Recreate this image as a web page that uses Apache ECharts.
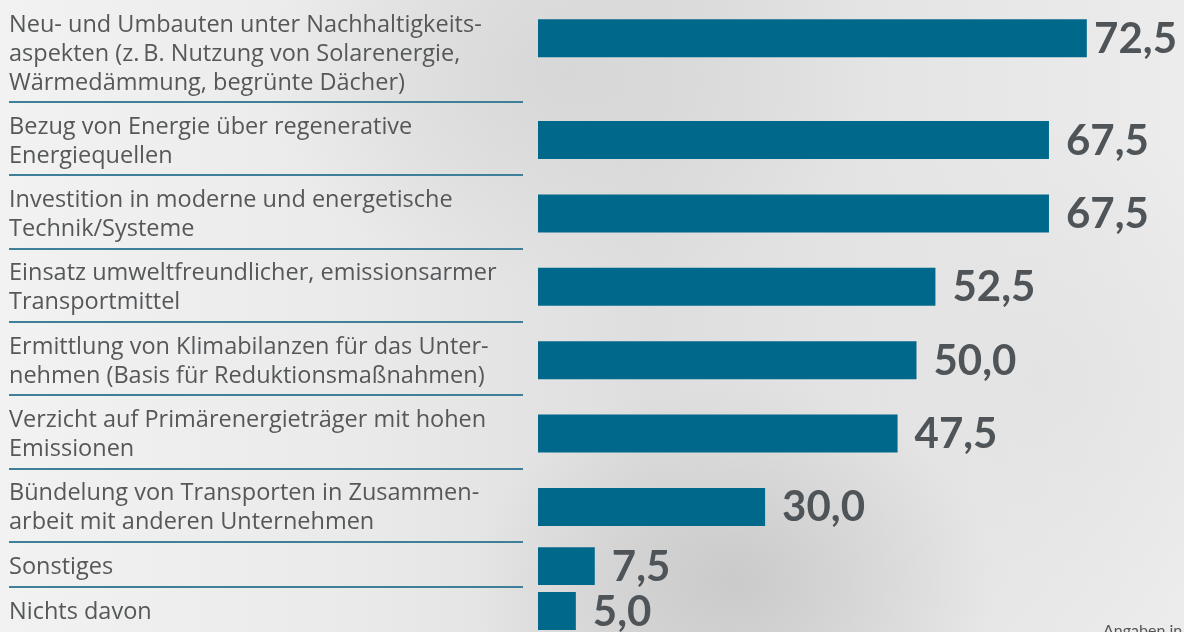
<!DOCTYPE html>
<html>
<head>
<meta charset="utf-8">
<script src="https://cdn.jsdelivr.net/npm/echarts@6/dist/echarts.min.js"></script>
<style>
  html, body { margin: 0; padding: 0; }
  body {
    width: 1184px; height: 632px; overflow: hidden;
    background:
      radial-gradient(ellipse 260px 200px at 62% 92%, rgba(200,200,200,0.9), rgba(200,200,200,0)),
      radial-gradient(ellipse 300px 220px at 48% 12%, rgba(214,214,214,0.9), rgba(214,214,214,0)),
      radial-gradient(ellipse 260px 260px at 88% 60%, rgba(226,226,226,0.8), rgba(226,226,226,0)),
      linear-gradient(to right, #f2f2f2 0%, #eaeaea 30%, #dedede 55%, #e6e6e6 80%, #ececec 100%);
  }
  #main { width: 1184px; height: 632px; }
</style>
</head>
<body>
<!-- Diagramm-Container -->
<div id="main"></div>
<script>
// Kategorien (Zeilenumbrueche wie im Original)
var categories = [
  'Neu- und Umbauten unter Nachhaltigkeits-\naspekten (z.\u2009B. Nutzung von Solarenergie,\nWärmedämmung, begrünte Dächer)',
  'Bezug von Energie über regenerative\nEnergiequellen',
  'Investition in moderne und energetische\nTechnik/Systeme',
  'Einsatz umweltfreundlicher, emissionsarmer\nTransportmittel',
  'Ermittlung von Klimabilanzen für das Unter-\nnehmen (Basis für Reduktionsmaßnahmen)',
  'Verzicht auf Primärenergieträger mit hohen\nEmissionen',
  'Bündelung von Transporten in Zusammen-\narbeit mit anderen Unternehmen',
  'Sonstiges',
  'Nichts davon'
]
// Werte in Prozent
var values = [72.5, 67.5, 67.5, 52.5, 50.0, 47.5, 30.0, 7.5, 5.0]
var valueLabels = ['72,5', '67,5', '67,5', '52,5', '50,0', '47,5', '30,0', '7,5', '5,0']

// Hoehe jeder Zeile haengt von der Anzahl der Textzeilen ab
var rows = []
var pos = 0
categories.forEach(function (c, i) {
  var n = c.split('\n').length
  var h = 45 + 28.5 * (n - 1)
  rows.push([values[i], pos, h, n])
  pos += h
})
var total = pos

var labelFont = 'bold 42px Lato'
var catFont = '23.5px "Open Sans"'
var measureCtx = document.createElement('canvas').getContext('2d')
function textWidth(t, f) {
  measureCtx.font = f
  return measureCtx.measureText(t).width
}

var myChart = echarts.init(document.getElementById('main'))

function renderItem(params, api) {
  var i = params.dataIndex
  var v = api.value(0)
  var top = api.value(1)
  var h = api.value(2)
  var n = api.value(3)
  var center = top + 24 + 14.25 * (Math.min(n, 2) - 1)
  var p0 = api.coord([0, center])
  var p1 = api.coord([v, center])
  var bh = api.size([0, 38])[1]
  var lbl = valueLabels[i]
  var lx = Math.min(p1[0] + 17, api.getWidth() - 7 - textWidth(lbl, labelFont))
  var children = [
    {
      type: 'rect',
      shape: { x: p0[0], y: p0[1] - bh / 2, width: p1[0] - p0[0], height: bh },
      style: { fill: '#00688a' }
    },
    {
      type: 'text',
      x: lx,
      y: p0[1] + 1,
      style: {
        text: lbl, font: labelFont, fill: '#4f5458',
        verticalAlign: 'middle', align: 'left'
      }
    },
    {
      type: 'text',
      x: 9,
      y: api.coord([0, top + 10.5])[1],
      style: {
        text: categories[i], font: catFont, fill: '#555759',
        lineHeight: 29, verticalAlign: 'top', align: 'left'
      }
    }
  ]
  if (i < categories.length - 1) {
    var yb = Math.round(api.coord([0, top + h])[1])
    children.push({
      type: 'line',
      shape: { x1: 9, y1: yb, x2: 523, y2: yb },
      style: { stroke: '#3f7f99', lineWidth: 2 }
    })
  }
  return { type: 'group', children: children }
}

var option = {
  animation: false,
  grid: { left: 538, width: 605.6, top: 0, height: 632 },
  xAxis: {
    type: 'value', min: 0, max: 80,
    show: false
  },
  yAxis: {
    type: 'value', min: 0, max: total, inverse: true,
    show: false
  },
  graphic: [
    {
      type: 'text', left: 1103, top: 623,
      style: { text: 'Angaben in Prozent', font: '16px Lato', fill: '#555759' }
    }
  ],
  series: [
    {
      type: 'custom',
      clip: false,
      renderItem: renderItem,
      data: rows
    }
  ]
}
myChart.setOption(option)
</script>
</body>
</html>
